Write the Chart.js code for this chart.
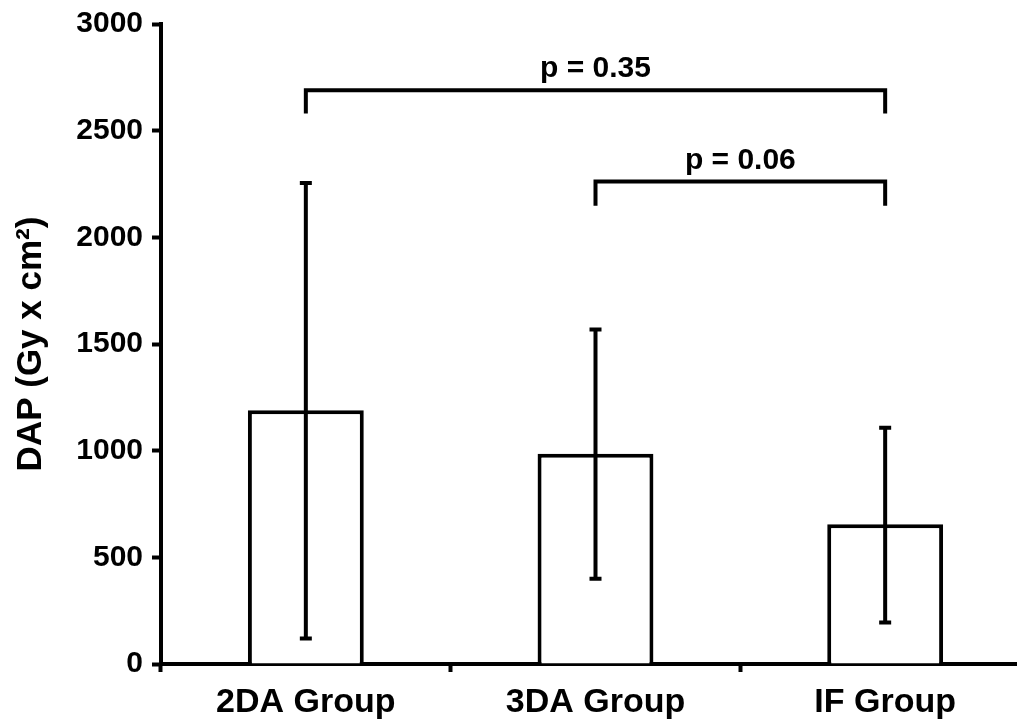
<!DOCTYPE html>
<html>
<head>
<meta charset="utf-8">
<script src="https://cdn.jsdelivr.net/npm/chart.js@4/dist/chart.umd.min.js"></script>
<style>
  html, body { margin: 0; padding: 0; background: #fff; overflow: hidden; }
  #wrap { width: 1030px; height: 724px; }
</style>
</head>
<body>
<div id="wrap"><canvas id="dapChart" width="1030" height="724"></canvas></div>
<script>
// data
const groups = ['2DA Group', '3DA Group', 'IF Group'];
const dapMean = [1190, 985, 655];
const errLow = [120, 400, 195];
const errHigh = [2255, 1568, 1108];

// significance brackets (category index from/to, height, leg end, label)
const bracketFrom = [0, 1];
const bracketTo = [2, 2];
const bracketTop = [2690, 2262];
const bracketLeg = [2580, 2148];
const bracketText = ['p = 0.35', 'p = 0.06'];

const yTicks = [0, 500, 1000, 1500, 2000, 2500, 3000];

const FONT = '"Liberation Sans", Arial, sans-serif';

const overlay = {
    id: 'overlay',
    afterDatasetsDraw(chart) {
        const ctx = chart.ctx;
        const x = chart.scales.x;
        const y = chart.scales.y;
        ctx.save();
        ctx.strokeStyle = '#000';
        ctx.lineWidth = 4;
        ctx.lineCap = 'butt';

        // error bars
        groups.forEach((g, i) => {
            const cx = x.getPixelForValue(i);
            const yl = y.getPixelForValue(errLow[i]);
            const yh = y.getPixelForValue(errHigh[i]);
            ctx.beginPath();
            ctx.moveTo(cx, yl);
            ctx.lineTo(cx, yh);
            ctx.moveTo(cx - 6, yl);
            ctx.lineTo(cx + 6, yl);
            ctx.moveTo(cx - 6, yh);
            ctx.lineTo(cx + 6, yh);
            ctx.stroke();
        });

        // brackets
        ctx.fillStyle = '#000';
        ctx.font = 'bold 30px ' + FONT;
        ctx.textAlign = 'center';
        ctx.textBaseline = 'bottom';
        bracketText.forEach((t, i) => {
            const x1 = x.getPixelForValue(bracketFrom[i]);
            const x2 = x.getPixelForValue(bracketTo[i]);
            const yt = y.getPixelForValue(bracketTop[i]);
            const yb = y.getPixelForValue(bracketLeg[i]);
            ctx.beginPath();
            ctx.moveTo(x1, yb);
            ctx.lineTo(x1, yt);
            ctx.lineTo(x2, yt);
            ctx.lineTo(x2, yb);
            ctx.stroke();
            ctx.fillText(t, (x1 + x2) / 2, yt - 6);
        });
        ctx.restore();
    }
};

const ctx = document.getElementById('dapChart').getContext('2d');

new Chart(ctx, {
    type: 'bar',
    data: {
        labels: groups,
        datasets: [{
            data: dapMean,
            backgroundColor: '#fff',
            borderColor: '#000',
            borderWidth: 4,
            barPercentage: 0.4,
            categoryPercentage: 1
        }]
    },
    options: {
        responsive: false,
        animation: false,
        layout: { padding: { top: 8, right: 0, bottom: 0, left: 0 } },
        plugins: {
            legend: { display: false },
            tooltip: { enabled: false }
        },
        scales: {
            x: {
                offset: true,
                grid: {
                    offset: true,
                    drawOnChartArea: false,
                    drawTicks: true,
                    tickLength: 8,
                    tickColor: '#000',
                    tickWidth: 4
                },
                border: { display: true, color: '#000', width: 4 },
                ticks: {
                    color: '#000',
                    padding: 10,
                    font: { family: FONT, size: 34, weight: 'bold' }
                },
                afterFit(s) { s.height = 60; }
            },
            y: {
                min: 0,
                max: 3000,
                afterBuildTicks(s) { s.ticks = yTicks.map(v => ({ value: v })); },
                grid: {
                    drawOnChartArea: false,
                    drawTicks: true,
                    tickLength: 9,
                    tickColor: '#000',
                    tickWidth: 4
                },
                border: { display: true, color: '#000', width: 4 },
                ticks: {
                    color: '#000',
                    padding: 9,
                    callback: v => String(v),
                    font: { family: FONT, size: 30, weight: 'bold', lineHeight: 1 }
                },
                title: {
                    display: true,
                    text: 'DAP (Gy x cm²)',
                    color: '#000',
                    padding: { top: 10, bottom: 0 },
                    font: { family: FONT, size: 35, weight: 'bold' }
                },
                afterFit(s) { s.width = 161; }
            }
        }
    },
    plugins: [overlay]
});
</script>
</body>
</html>
